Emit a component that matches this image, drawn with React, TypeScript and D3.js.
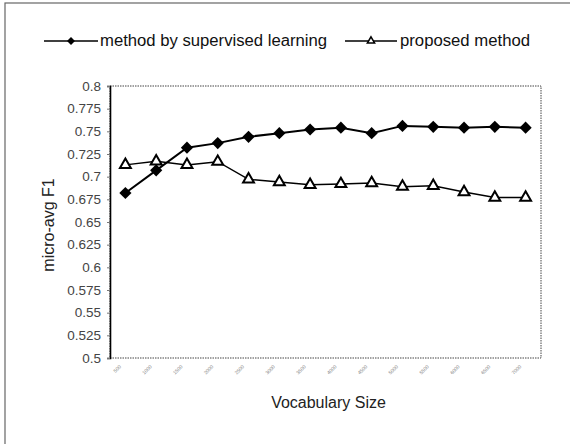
import React, { useEffect, useRef } from 'react';
import * as d3 from 'd3';

// x categories (tick labels are barely legible in the scan, so these are estimates)
const vocabSizes = ['500', '1000', '1500', '2000', '2500', '3000', '3500', '4000', '4500', '5000', '5500', '6000', '6500', '7000'];
const supervised = [0.682, 0.707, 0.732, 0.737, 0.744, 0.748, 0.752, 0.754, 0.748, 0.756, 0.755, 0.754, 0.755, 0.754];
const proposed = [0.713, 0.717, 0.713, 0.7165, 0.697, 0.694, 0.691, 0.692, 0.693, 0.689, 0.69, 0.683, 0.677, 0.677];
const yTicks = [0.5, 0.525, 0.55, 0.575, 0.6, 0.625, 0.65, 0.675, 0.7, 0.725, 0.75, 0.775, 0.8];

const W = 570;
const H = 444;
const FONT = '"Liberation Sans", Arial, sans-serif';

const App: React.FC = () => {
  const svgRef = useRef<SVGSVGElement>(null);

  useEffect(() => {
    if (!svgRef.current) return;
    const svg = d3.select(svgRef.current);
    svg.selectAll('*').remove();

    const plot = { left: 110, right: 541, top: 86, bottom: 358 };

    const x = d3.scalePoint<string>()
      .domain(vocabSizes)
      .range([plot.left, plot.right])
      .padding(0.5);

    const y = d3.scaleLinear()
      .domain([0.5, 0.8])
      .range([plot.bottom, plot.top]);

    // outer frame
    svg.append('rect')
      .attr('x', 5).attr('y', 3)
      .attr('width', W + 20).attr('height', H + 20)
      .attr('fill', 'none')
      .attr('stroke', '#666')
      .attr('stroke-width', 1.2);

    // legend
    const legendY = 41;
    const lg = svg.append('g');
    lg.append('line')
      .attr('x1', 44).attr('x2', 98).attr('y1', legendY).attr('y2', legendY)
      .attr('stroke', '#000').attr('stroke-width', 1.5);
    lg.append('path')
      .attr('d', d3.symbol(d3.symbolDiamond2, 40)())
      .attr('transform', `translate(71,${legendY})`)
      .attr('fill', '#000');
    lg.append('text')
      .attr('x', 100).attr('y', legendY + 5)
      .attr('font-family', FONT).attr('font-size', 16)
      .attr('textLength', 227).attr('lengthAdjust', 'spacingAndGlyphs')
      .attr('fill', '#111')
      .text('method by supervised learning');
    lg.append('line')
      .attr('x1', 345).attr('x2', 397).attr('y1', legendY).attr('y2', legendY)
      .attr('stroke', '#000').attr('stroke-width', 1.5);
    lg.append('path')
      .attr('d', d3.symbol(d3.symbolTriangle2, 38)())
      .attr('transform', `translate(371,${legendY})`)
      .attr('fill', '#fff').attr('stroke', '#000').attr('stroke-width', 1.5);
    lg.append('text')
      .attr('x', 400).attr('y', legendY + 5)
      .attr('font-family', FONT).attr('font-size', 16)
      .attr('textLength', 130).attr('lengthAdjust', 'spacingAndGlyphs')
      .attr('fill', '#111')
      .text('proposed method');

    // plot border (dotted in the scan)
    svg.append('rect')
      .attr('x', plot.left).attr('y', plot.top)
      .attr('width', plot.right - plot.left).attr('height', plot.bottom - plot.top)
      .attr('fill', 'none')
      .attr('stroke', '#444')
      .attr('stroke-width', 1)
      .attr('stroke-dasharray', '1.5,1');

    // y axis
    const yAxis = d3.axisLeft(y)
      .tickValues(yTicks)
      .tickSize(3)
      .tickFormat(d => String(+(+d).toFixed(3)));
    const yg = svg.append('g')
      .attr('transform', `translate(${plot.left},0)`)
      .call(yAxis);
    yg.select('.domain').attr('stroke', '#000').attr('stroke-width', 1.6);
    yg.selectAll('.tick line').attr('stroke', '#777');
    yg.selectAll('.tick text')
      .attr('font-family', FONT)
      .attr('font-size', 13.5)
      .attr('fill', '#444')
      .attr('x', -9);

    // x tick labels (tiny rotated)
    svg.append('g')
      .selectAll('text')
      .data(vocabSizes)
      .enter()
      .append('text')
      .attr('transform', d => `translate(${(x(d) ?? 0) - 4},${plot.bottom + 9}) rotate(-45)`)
      .attr('text-anchor', 'end')
      .attr('font-family', FONT)
      .attr('font-size', 5)
      .attr('fill', '#888')
      .text(d => d);

    // axis titles
    svg.append('text')
      .attr('x', (plot.left + plot.right) / 2 + 3)
      .attr('y', 408)
      .attr('text-anchor', 'middle')
      .attr('font-family', FONT)
      .attr('font-size', 16)
      .attr('fill', '#222')
      .text('Vocabulary Size');

    svg.append('text')
      .attr('transform', `translate(54,${(plot.top + plot.bottom) / 2 + 3}) rotate(-90)`)
      .attr('text-anchor', 'middle')
      .attr('font-family', FONT)
      .attr('font-size', 16)
      .attr('fill', '#222')
      .text('micro-avg F1');

    // series
    const line = d3.line<number>()
      .x((_, i) => x(vocabSizes[i]) ?? 0)
      .y(d => y(d));

    svg.append('path')
      .datum(proposed)
      .attr('d', line)
      .attr('fill', 'none')
      .attr('stroke', '#000')
      .attr('stroke-width', 1.5);

    svg.append('path')
      .datum(supervised)
      .attr('d', line)
      .attr('fill', 'none')
      .attr('stroke', '#000')
      .attr('stroke-width', 2);

    svg.append('g')
      .selectAll('path')
      .data(proposed)
      .enter()
      .append('path')
      .attr('d', d3.symbol(d3.symbolTriangle2, 85)())
      .attr('transform', (d, i) => `translate(${x(vocabSizes[i])},${y(d)})`)
      .attr('fill', '#fff')
      .attr('stroke', '#000')
      .attr('stroke-width', 2);

    svg.append('g')
      .selectAll('path')
      .data(supervised)
      .enter()
      .append('path')
      .attr('d', d3.symbol(d3.symbolDiamond2, 95)())
      .attr('transform', (d, i) => `translate(${x(vocabSizes[i])},${y(d)})`)
      .attr('fill', '#000');
  }, []);

  return (
    <svg
      ref={svgRef}
      width={W}
      height={H}
      style={{ position: 'absolute', top: 0, left: 0, background: '#fff' }}
    />
  );
};

export default App;
